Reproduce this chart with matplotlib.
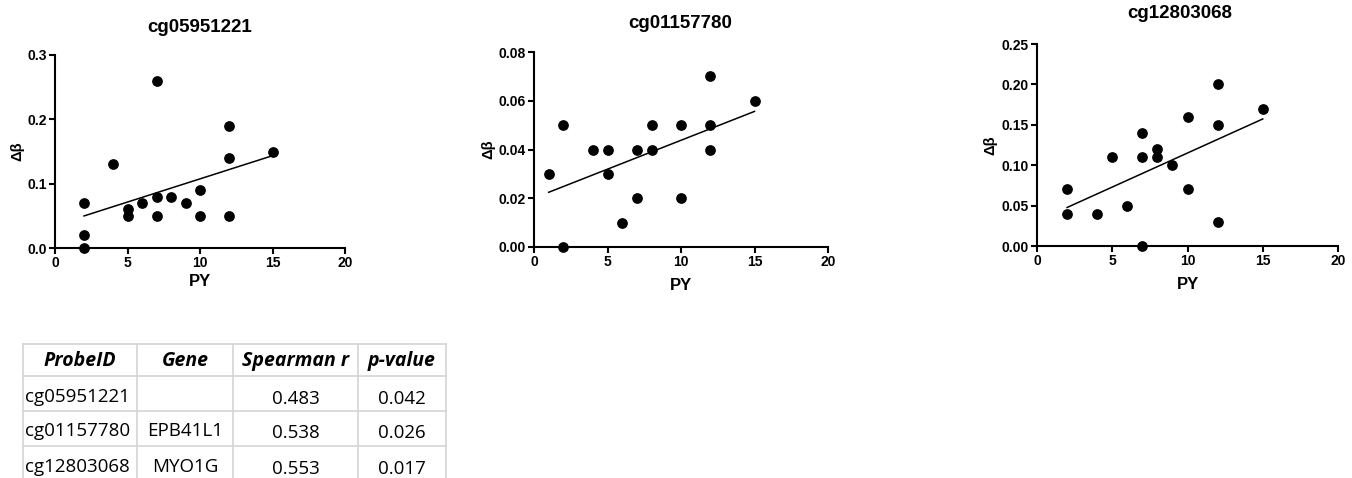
import numpy as np
import matplotlib
matplotlib.use("Agg")
import matplotlib.pyplot as plt

plt.rcParams["font.family"] = ["Liberation Sans", "DejaVu Sans"]

# panel data: (PY, delta beta)
titles = ["cg05951221", "cg01157780", "cg12803068"]

py1 = [2, 2, 2, 4, 5, 5, 6, 7, 7, 7, 8, 9, 10, 10, 12, 12, 12, 15]
db1 = [0.07, 0.02, 0.00, 0.13, 0.06, 0.05, 0.07, 0.26, 0.08, 0.05, 0.08, 0.07,
       0.09, 0.05, 0.19, 0.14, 0.05, 0.15]

py2 = [1, 2, 2, 4, 5, 5, 6, 7, 7, 8, 8, 10, 10, 12, 12, 12, 15]
db2 = [0.03, 0.05, 0.00, 0.04, 0.04, 0.03, 0.01, 0.04, 0.02, 0.05, 0.04, 0.05,
       0.02, 0.07, 0.05, 0.04, 0.06]

py3 = [2, 2, 4, 5, 6, 7, 7, 7, 8, 8, 9, 10, 10, 12, 12, 12, 15]
db3 = [0.07, 0.04, 0.04, 0.11, 0.05, 0.14, 0.11, 0.00, 0.12, 0.11, 0.10, 0.16,
       0.07, 0.20, 0.15, 0.03, 0.17]

yticks1 = [0, 0.1, 0.2, 0.3]
yticks2 = [0, 0.02, 0.04, 0.06, 0.08]
yticks3 = [0, 0.05, 0.10, 0.15, 0.20, 0.25]
xticks = [0, 5, 10, 15, 20]

# table
col_names = ["ProbeID", "Gene", "Spearman r", "p-value"]
probe_ids = ["cg05951221", "cg01157780", "cg12803068"]
genes = ["", "EPB41L1", "MYO1G"]
spearman_r = ["0.483", "0.538", "0.553"]
p_values = ["0.042", "0.026", "0.017"]

W, H = 1352, 478
fig = plt.figure(figsize=(W / 100, H / 100), dpi=100)


def px_axes(x0, x1, y0, y1):
    # pixel box (top-origin) -> figure fraction
    return fig.add_axes([x0 / W, (H - y1) / H, (x1 - x0) / W, (y1 - y0) / H])


boxes = [(55, 345, 55, 248), (534, 828, 52, 247), (1037, 1338, 44, 246)]
title_pos = [(200, 28), (680, 23), (1180, 13)]
ylab_x = [-0.131, -0.156, -0.156]
xlab_y = [-0.171, -0.195, -0.193]
panels = [(py1, db1, yticks1, "%.1f"), (py2, db2, yticks2, "%.2f"),
          (py3, db3, yticks3, "%.2f")]

for i, (x, y, yt, fmt) in enumerate(panels):
    ax = px_axes(*boxes[i])
    x = np.array(x)
    y = np.array(y)
    ax.scatter(x, y, s=45, color="black", zorder=3, clip_on=False)
    k, b = np.polyfit(x, y, 1)
    xs = np.array([x.min(), x.max()])
    ax.plot(xs, k * xs + b, color="black", lw=1.1)
    ax.set_xlim(0, 20)
    ax.set_ylim(0, yt[-1])
    ax.set_xticks(xticks)
    ax.set_yticks(yt)
    ax.set_yticklabels([fmt % v for v in yt])
    for s in ["top", "right"]:
        ax.spines[s].set_visible(False)
    for s in ["left", "bottom"]:
        ax.spines[s].set_linewidth(1.5)
    ax.tick_params(direction="out", length=4, width=1.5, labelsize=10, pad=2)
    for lab in ax.get_xticklabels() + ax.get_yticklabels():
        lab.set_fontweight("bold")
    ax.set_xlabel("PY", fontsize=12, fontweight="bold")
    ax.xaxis.set_label_coords(0.5, xlab_y[i])
    ax.xaxis.label.set_va("center")
    ax.set_ylabel("Δβ", fontsize=10.5, fontweight="bold")
    ax.yaxis.set_label_coords(ylab_x[i], 0.5)
    ax.yaxis.label.set_va("center")
    tx, ty = title_pos[i]
    fig.text(tx / W, 1 - ty / H, titles[i], ha="center", va="center",
             fontsize=13.5, fontweight="bold")

# table drawn in pixel space
tax = fig.add_axes([0, 0, 1, 1])
tax.set_xlim(0, W)
tax.set_ylim(H, 0)
tax.axis("off")
col_edges = [23, 137, 233, 358, 446]
row_edges = [344, 376, 411, 446, 481]
grid_c = "#d4d4d4"
for xe in col_edges:
    tax.plot([xe, xe], [row_edges[0], row_edges[-1]], color=grid_c, lw=1.2, clip_on=False)
for ye in row_edges:
    tax.plot([col_edges[0], col_edges[-1]], [ye, ye], color=grid_c, lw=1.2, clip_on=False)

tfont = ["Open Sans", "DejaVu Sans"]
fs = 13.5
for j, name in enumerate(col_names):
    cx = (col_edges[j] + col_edges[j + 1]) / 2
    tax.text(cx, (row_edges[0] + row_edges[1]) / 2 + 1, name, ha="center", va="center",
             fontsize=14, fontweight="bold", fontstyle="italic", family=tfont)

for r in range(3):
    cy = (row_edges[r + 1] + row_edges[r + 2]) / 2
    tax.text(col_edges[0] + 2, cy + 3, probe_ids[r], ha="left", va="center",
             fontsize=fs, family=tfont)
    tax.text((col_edges[1] + col_edges[2]) / 2, cy + 3, genes[r], ha="center",
             va="center", fontsize=fs, family=tfont)
    tax.text((col_edges[2] + col_edges[3]) / 2, cy + 5, spearman_r[r], ha="center",
             va="center", fontsize=fs, family=tfont)
    tax.text((col_edges[3] + col_edges[4]) / 2, cy + 5, p_values[r], ha="center",
             va="center", fontsize=fs, family=tfont)

fig.savefig("out.png", dpi=100)
